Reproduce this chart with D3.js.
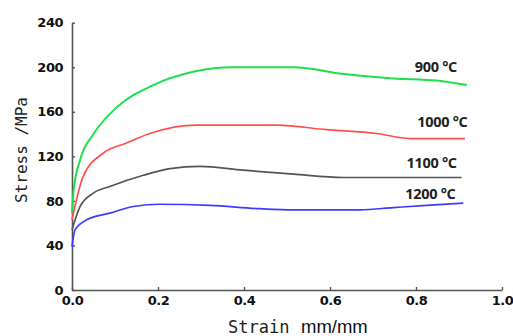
<!DOCTYPE html>
<html>
<head>
<meta charset="utf-8">
<script src="https://cdn.jsdelivr.net/npm/d3@7"></script>
<style>
  body { margin: 0; background: #fff; }
  svg { display: block; }
</style>
</head>
<body>
<div id="grafico"></div>
<script>
// curvas tensión-deformación, [deformación, tensión MPa]
const t900 = [[0, 69], [0.004, 90], [0.019, 117], [0.05, 140], [0.104, 164], [0.189, 184], [0.282, 196], [0.375, 200], [0.515, 200], [0.631, 194], [0.747, 190], [0.848, 188], [0.918, 184]];
const t1000 = [[0, 63], [0.026, 102], [0.073, 123], [0.127, 132], [0.181, 140.5], [0.29, 148], [0.476, 148], [0.592, 144], [0.709, 140.5], [0.786, 136], [0.914, 136]];
const t1100 = [[0, 54], [0.019, 75], [0.05, 87], [0.088, 93], [0.166, 103], [0.228, 109], [0.298, 111], [0.398, 107.6], [0.515, 104], [0.631, 101], [0.906, 101]];
const t1200 = [[0, 39], [0.007, 54], [0.034, 63], [0.088, 69], [0.143, 75], [0.205, 77], [0.321, 76], [0.437, 73], [0.515, 72], [0.67, 72], [0.747, 74], [0.825, 76], [0.91, 78]];

const series = [
  { nombre: "900 °C", datos: t900, color: "#1fe04a" },
  { nombre: "1000 °C", datos: t1000, color: "#ff4f4f" },
  { nombre: "1100 °C", datos: t1100, color: "#555555" },
  { nombre: "1200 °C", datos: t1200, color: "#3c3cff" },
];
// posición de las etiquetas (deformación, tensión)
const etiquetas = [[0.797, 196], [0.803, 146.5], [0.778, 109.5], [0.775, 81.5]];

const xTicks = [0, 0.2, 0.4, 0.6, 0.8, 1.0];
const yTicks = [0, 40, 80, 120, 160, 200, 240];

const width = 513;
const height = 336;
const margin = { top: 22.7, right: 11, bottom: 46, left: 72 };

const svg = d3
  .select("#grafico")
  .append("svg")
  .attr("width", width)
  .attr("height", height);

const x = d3.scaleLinear().domain([0, 1]).range([margin.left, width - margin.right]);
const y = d3.scaleLinear().domain([0, 240]).range([height - margin.bottom, margin.top]);

// Eje X
const ejeX = svg
  .append("g")
  .attr("transform", `translate(0,${height - margin.bottom})`)
  .call(d3.axisBottom(x).tickValues(xTicks).tickFormat(d3.format(".1f")).tickSizeInner(-3).tickSizeOuter(0).tickPadding(6));

// Eje Y
const ejeY = svg
  .append("g")
  .attr("transform", `translate(${margin.left},0)`)
  .call(d3.axisLeft(y).tickValues(yTicks).tickSizeInner(-3).tickSizeOuter(0).tickPadding(9));

[ejeX, ejeY].forEach((g) => {
  g.select(".domain").attr("stroke", "#555").attr("stroke-width", 1.6);
  g.selectAll(".tick line").attr("stroke", "#555").attr("stroke-width", 1.4);
  g.selectAll("text")
    .attr("fill", "#111")
    .style("font-family", "'DejaVu Sans', sans-serif")
    .style("font-weight", "bold")
    .style("font-size", "13px")
    .style("letter-spacing", "-0.5px");
});

// Curvas
const linea = d3
  .line()
  .x((d) => x(d[0]))
  .y((d) => y(d[1]))
  .curve(d3.curveMonotoneX);

svg
  .append("g")
  .selectAll("path")
  .data(series)
  .join("path")
  .attr("d", (d) => linea(d.datos))
  .attr("fill", "none")
  .attr("stroke", (d) => d.color)
  .attr("stroke-width", (d, i) => (i === 0 ? 2 : 1.7));

// Etiquetas de temperatura
svg
  .append("g")
  .selectAll("text")
  .data(series)
  .join("text")
  .attr("x", (d, i) => x(etiquetas[i][0]))
  .attr("y", (d, i) => y(etiquetas[i][1]))
  .text((d) => d.nombre)
  .attr("fill", "#222")
  .style("font-family", "'Open Sans', 'Liberation Sans', sans-serif")
  .style("font-weight", "bold")
  .style("font-size", "14.5px")
  .style("letter-spacing", "-0.3px");

// Títulos de ejes
svg
  .append("text")
  .attr("x", 228)
  .attr("y", 333)
  .text("Strain")
  .attr("fill", "#222")
  .style("font-family", "'DejaVu Sans Mono', monospace")
  .style("font-size", "17px");

svg
  .append("text")
  .attr("x", 301)
  .attr("y", 333)
  .text("mm/mm")
  .attr("fill", "#111")
  .style("font-family", "'Liberation Sans', Arial, sans-serif")
  .style("font-size", "18.5px");

svg
  .append("text")
  .attr("transform", "translate(26.5,150) rotate(-90)")
  .attr("text-anchor", "middle")
  .text("Stress /MPa")
  .attr("fill", "#222")
  .style("font-family", "'DejaVu Sans Mono', monospace")
  .style("font-size", "16px");
</script>
</body>
</html>
